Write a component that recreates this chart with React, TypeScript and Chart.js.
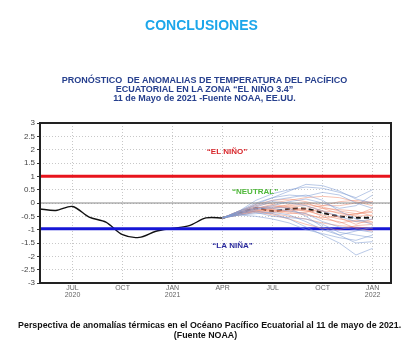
import React, { useEffect, useRef } from "react";
import { Chart, registerables } from "chart.js";

Chart.register(...registerables);

// Month index: 0 = JUL 2020
const X_MIN = -1.95;
const X_MAX = 19.1;
const X_TICK_VALUES = [0, 3, 6, 9, 12, 15, 18];
const X_TICK_LABELS = [["JUL", "2020"], ["OCT"], ["JAN", "2021"], ["APR"], ["JUL"], ["OCT"], ["JAN", "2022"]];
const Y_TICKS = [3, 2.5, 2, 1.5, 1, 0.5, 0, -0.5, -1, -1.5, -2, -2.5, -3];

const OBS_MONTHS = [-2, -1, 0, 1, 2, 3, 4, 5, 6, 7, 8, 9];
const OBS_VALUES = [-0.22, -0.28, -0.13, -0.53, -0.72, -1.19, -1.29, -1.06, -0.95, -0.85, -0.56, -0.56];

const FC_MONTHS = [9, 10, 11, 12, 13, 14, 15, 16, 17, 18];
const FC_MEAN = [-0.56, -0.38, -0.2, -0.3, -0.22, -0.22, -0.37, -0.5, -0.55, -0.55];

const BLUE_MEMBERS = [
  [-0.56, -0.3, 0.1, 0.35, 0.5, 0.6, 0.55, 0.4, 0.2, 0.5],
  [-0.56, -0.35, -0.05, 0.2, 0.45, 0.7, 0.65, 0.45, 0.15, 0.0],
  [-0.56, -0.4, -0.3, -0.4, -0.6, -0.9, -1.2, -1.5, -1.95, -1.7],
  [-0.56, -0.45, -0.5, -0.6, -0.75, -1.0, -1.15, -1.3, -1.4, -1.2],
  [-0.56, -0.3, -0.1, 0.1, 0.2, 0.3, 0.1, -0.3, -0.6, -0.8],
  [-0.56, -0.4, -0.2, -0.2, -0.3, -0.4, -0.7, -0.9, -1.0, -1.1],
  [-0.56, -0.35, -0.15, 0.05, 0.0, -0.1, -0.3, -0.5, -0.7, -0.6],
  [-0.56, -0.45, -0.35, -0.5, -0.55, -0.6, -0.8, -1.1, -1.2, -1.3],
  [-0.56, -0.3, 0.0, 0.2, 0.3, 0.25, 0.4, 0.3, 0.0, -0.2],
  [-0.56, -0.4, -0.25, -0.15, -0.2, -0.5, -0.9, -1.2, -1.5, -1.45],
  [-0.56, -0.35, -0.2, -0.1, 0.05, 0.15, 0.0, -0.2, -0.1, 0.3],
  [-0.56, -0.45, -0.4, -0.35, -0.45, -0.7, -1.0, -1.2, -1.05, -0.9],
];

const RED_MEMBERS = [
  [-0.56, -0.35, -0.2, -0.15, -0.1, -0.05, -0.15, -0.3, -0.4, -0.35],
  [-0.56, -0.4, -0.3, -0.3, -0.25, -0.3, -0.45, -0.6, -0.7, -0.75],
  [-0.56, -0.3, -0.1, 0.0, 0.1, 0.2, 0.25, 0.2, 0.05, -0.1],
  [-0.56, -0.45, -0.35, -0.4, -0.5, -0.6, -0.75, -0.85, -0.9, -0.95],
  [-0.56, -0.35, -0.15, -0.2, -0.15, -0.1, -0.3, -0.55, -0.8, -0.6],
  [-0.56, -0.4, -0.25, -0.25, -0.35, -0.45, -0.55, -0.5, -0.4, -0.3],
  [-0.56, -0.3, -0.05, 0.1, 0.15, 0.05, -0.1, -0.1, 0.0, 0.05],
  [-0.56, -0.4, -0.3, -0.45, -0.6, -0.8, -0.95, -1.0, -0.85, -0.8],
  [-0.56, -0.35, -0.2, -0.1, -0.2, -0.3, -0.3, -0.35, -0.5, -0.45],
  [-0.56, -0.45, -0.3, -0.2, -0.05, 0.0, -0.2, -0.4, -0.45, -0.2],
  [-0.56, -0.35, -0.25, -0.3, -0.4, -0.35, -0.2, -0.25, -0.3, -0.5],
  [-0.56, -0.4, -0.2, -0.05, -0.15, -0.25, -0.5, -0.75, -0.65, -0.7],
  [-0.56, -0.3, -0.15, -0.25, -0.3, -0.2, -0.1, 0.05, 0.1, 0.0],
  [-0.56, -0.4, -0.3, -0.35, -0.3, -0.4, -0.6, -0.7, -0.95, -1.05],
];

const EL_NINO_LEVEL = 1;
const LA_NINA_LEVEL = -0.97;

const LABELS = [
  { text: "\u201CEL NI\u00D1O\u201D", x: 9.27, y: 1.92, color: "#d8262b" },
  { text: "\u201CNEUTRAL\u201D", x: 10.95, y: 0.42, color: "#4fb83a" },
  { text: "\u201CLA NI\u00D1A\u201D", x: 9.6, y: -1.61, color: "#2a2a9c" },
];

const pts = (xs: number[], ys: number[]) => xs.map((x, i) => ({ x, y: ys[i] }));

export default function App() {
  const ref = useRef<HTMLCanvasElement>(null);

  useEffect(() => {
    const canvas = ref.current!;
    const datasets: any[] = [];
    const hline = (v: number, color: string, w: number) => ({
      data: [{ x: X_MIN, y: v }, { x: X_MAX, y: v }],
      borderColor: color,
      borderWidth: w,
      pointRadius: 0,
    });
    datasets.push(hline(0, "#8a8a8a", 1));
    BLUE_MEMBERS.forEach((m) =>
      datasets.push({ data: pts(FC_MONTHS, m), borderColor: "rgba(125,155,210,0.6)", borderWidth: 0.9, pointRadius: 0 })
    );
    RED_MEMBERS.forEach((m) =>
      datasets.push({ data: pts(FC_MONTHS, m), borderColor: "rgba(236,130,100,0.55)", borderWidth: 0.9, pointRadius: 0 })
    );
    datasets.push(hline(EL_NINO_LEVEL, "#e8141c", 3));
    datasets.push(hline(LA_NINA_LEVEL, "#1616d6", 3));
    datasets.push({ data: pts(OBS_MONTHS, OBS_VALUES), borderColor: "#111", borderWidth: 1.4, pointRadius: 0, tension: 0.3 });
    datasets.push({
      data: pts(FC_MONTHS, FC_MEAN),
      borderColor: "#111",
      borderWidth: 2,
      borderDash: [5, 3],
      pointRadius: 0,
      tension: 0.3,
    });

    const overlay = {
      id: "overlay",
      afterDatasetsDraw(chart: any) {
        const { ctx, chartArea, scales } = chart;
        ctx.save();
        ctx.font = "bold 8px 'Liberation Sans', Arial, sans-serif";
        ctx.textAlign = "center";
        ctx.textBaseline = "middle";
        LABELS.forEach((l) => {
          ctx.fillStyle = l.color;
          ctx.fillText(l.text, scales.x.getPixelForValue(l.x), scales.y.getPixelForValue(l.y));
        });
        ctx.strokeStyle = "#222";
        ctx.lineWidth = 2;
        ctx.strokeRect(chartArea.left, chartArea.top, chartArea.right - chartArea.left, chartArea.bottom - chartArea.top);
        ctx.restore();
      },
    };

    const chart = new Chart(canvas, {
      type: "line",
      data: { datasets },
      plugins: [overlay],
      options: {
        animation: false,
        responsive: false,
        layout: { padding: { top: 123, right: 12, bottom: 55, left: 0 } },
        plugins: { legend: { display: false }, tooltip: { enabled: false } },
        scales: {
          x: {
            type: "linear",
            min: X_MIN,
            max: X_MAX,
            afterBuildTicks: (s: any) => {
              s.ticks = X_TICK_VALUES.map((v) => ({ value: v }));
            },
            afterFit: (s: any) => {
              s.height = 20;
            },
            ticks: {
              autoSkip: false,
              maxRotation: 0,
              padding: 1,
              font: { size: 7, family: "'Liberation Sans', Arial, sans-serif", lineHeight: 1.1 },
              color: "#666",
              callback: (v: any) => {
                const i = X_TICK_VALUES.indexOf(Number(v));
                return i >= 0 ? X_TICK_LABELS[i] : "";
              },
            },
            grid: { color: "#c8c8c8", drawTicks: false, lineWidth: 1 },
            border: { display: false, dash: [1, 2] },
          },
          y: {
            min: -3,
            max: 3,
            afterBuildTicks: (s: any) => {
              s.ticks = Y_TICKS.map((v) => ({ value: v }));
            },
            afterFit: (s: any) => {
              s.width = 40;
            },
            ticks: {
              padding: 2,
              font: { size: 8, family: "'Liberation Sans', Arial, sans-serif" },
              color: "#444",
              callback: (v: any) => String(v),
            },
            grid: { color: "#c8c8c8", tickLength: 3, tickColor: "#333", lineWidth: 1 },
            border: { display: false, dash: [1, 2] },
          },
        },
      },
    });
    return () => chart.destroy();
  }, []);

  const sans = "'Liberation Sans', Arial, sans-serif";
  return (
    <div style={{ position: "absolute", left: 0, top: 0, width: 403, height: 358, background: "#fff", overflow: "hidden" }}>
      <canvas ref={ref} width={403} height={358} style={{ position: "absolute", left: 0, top: 0, width: 403, height: 358 }} />
      <div
        style={{
          position: "absolute", left: 0, top: 17, width: 403, textAlign: "center",
          font: `bold 14px ${sans}`, color: "#1ca6ea", lineHeight: "16px",
        }}
      >
        CONCLUSIONES
      </div>
      <div
        style={{
          position: "absolute", left: 0, top: 76, width: 403, textAlign: "center",
          font: `bold 9px ${sans}`, color: "#27408e", lineHeight: "9px", whiteSpace: "nowrap",
        }}
      >
        <div style={{ transform: "translateX(3px) scaleX(1)" }}>PRONÓSTICO&nbsp; DE ANOMALIAS DE TEMPERATURA DEL PACÍFICO</div>
        <div style={{ transform: "translateX(3px) scaleX(1)" }}>ECUATORIAL EN LA ZONA “EL NIÑO 3.4”</div>
        <div style={{ transform: "translateX(3px) scaleX(1)" }}>11 de Mayo de 2021 -Fuente NOAA, EE.UU.</div>
      </div>
      <div
        style={{
          position: "absolute", left: 0, top: 320, width: 403, textAlign: "center",
          font: `bold 9.5px ${sans}`, color: "#111", lineHeight: "10px", whiteSpace: "nowrap",
        }}
      >
        <div style={{ transform: "translateX(4px) scaleX(0.93)" }}>
          Perspectiva de anomalías térmicas en el Océano Pacífico Ecuatorial al 11 de mayo de 2021.
        </div>
        <div style={{ transform: "translateX(4px) scaleX(0.93)" }}>(Fuente NOAA)</div>
      </div>
    </div>
  );
}
